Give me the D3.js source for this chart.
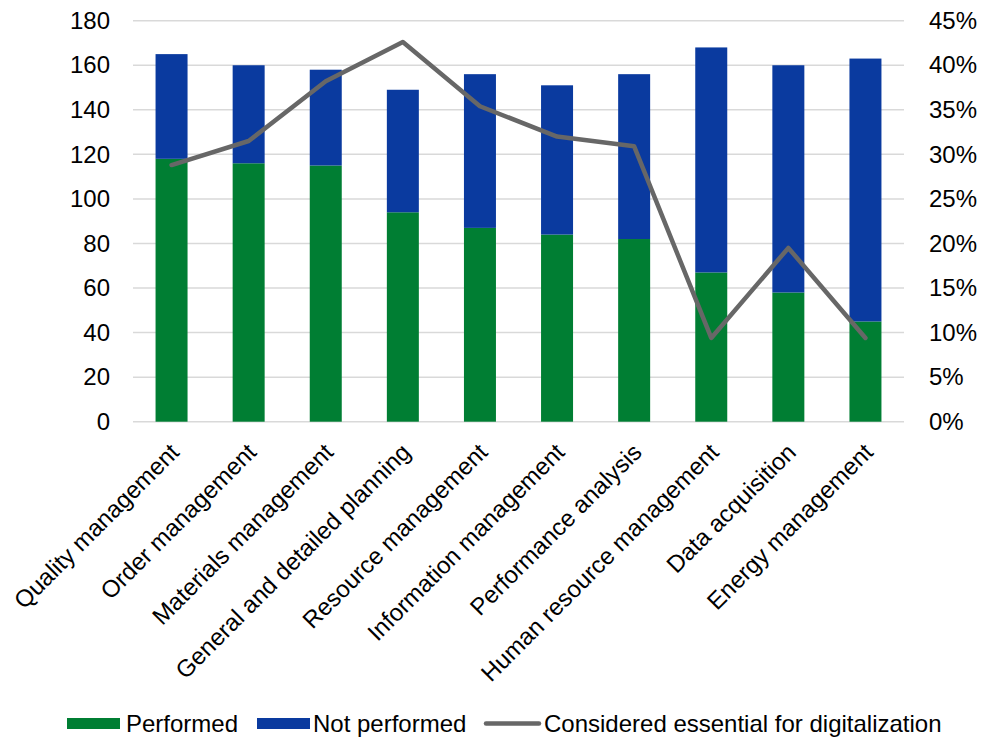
<!DOCTYPE html>
<html>
<head>
<meta charset="utf-8">
<script src="https://cdn.jsdelivr.net/npm/d3@7"></script>
<style>
  html, body { margin: 0; padding: 0; background: #fff; }
  svg { display: block; font-family: "Liberation Sans", Arial, sans-serif; }
</style>
</head>
<body>
<svg id="chart" width="998" height="737"></svg>
<script>
// Functions and how many companies perform them
const categories = [
  "Quality management", "Order management", "Materials management",
  "General and detailed planning", "Resource management", "Information management",
  "Performance analysis", "Human resource management", "Data acquisition", "Energy management"
];
const performed    = [118, 116, 115, 94, 87, 84, 82, 67, 58, 45];
const notPerformed = [47, 44, 43, 55, 69, 67, 74, 101, 102, 118];
// Share considering the function essential for digitalization
const essentialShare = [0.288, 0.315, 0.382, 0.426, 0.354, 0.320, 0.309, 0.094, 0.195, 0.094];

const leftTicks  = [0, 20, 40, 60, 80, 100, 120, 140, 160, 180];
const rightTicks = [0, 0.05, 0.10, 0.15, 0.20, 0.25, 0.30, 0.35, 0.40, 0.45];

const colors = { performed: "#007e33", notPerformed: "#0a3a9f", line: "#676767", grid: "#d9d9d9", text: "#000" };
const fontSize = 24;

const svg = d3.select("#chart");
const plot = { left: 133, right: 904, top: 20.7, bottom: 421.7 };

const x = d3.scaleBand().domain(categories)
  .range([plot.left, plot.right]).paddingInner(0.585).paddingOuter(0.2925);
const y = d3.scaleLinear().domain([0, 180]).range([plot.bottom, plot.top]);
const y2 = d3.scaleLinear().domain([0, 0.45]).range([plot.bottom, plot.top]);

// Gridlines
svg.append("g").selectAll("line").data(leftTicks).join("line")
  .attr("x1", plot.left).attr("x2", plot.right)
  .attr("y1", d => y(d)).attr("y2", d => y(d))
  .attr("stroke", colors.grid).attr("stroke-width", 1.5);

// Left axis
const leftAxis = svg.append("g").attr("transform", `translate(${plot.left},0)`)
  .call(d3.axisLeft(y).tickValues(leftTicks).tickSize(0).tickPadding(23));
leftAxis.select(".domain").remove();
leftAxis.selectAll("text").attr("font-size", fontSize).attr("fill", colors.text)
  .attr("font-family", "Liberation Sans, Arial, sans-serif");

// Right axis
const rightAxis = svg.append("g").attr("transform", `translate(${plot.right},0)`)
  .call(d3.axisRight(y2).tickValues(rightTicks).tickSize(0).tickPadding(25).tickFormat(d3.format(".0%")));
rightAxis.select(".domain").remove();
rightAxis.selectAll("text").attr("font-size", fontSize).attr("fill", colors.text)
  .attr("font-family", "Liberation Sans, Arial, sans-serif");

// Stacked bars
const rows = categories.map((c, i) => ({ cat: c, performed: performed[i], notPerformed: notPerformed[i] }));
const stack = d3.stack().keys(["performed", "notPerformed"])(rows);
svg.append("g").selectAll("g").data(stack).join("g")
  .attr("fill", d => colors[d.key])
  .selectAll("rect").data(d => d).join("rect")
  .attr("x", d => x(d.data.cat))
  .attr("width", x.bandwidth())
  .attr("y", d => y(d[1]))
  .attr("height", d => y(d[0]) - y(d[1]));

// Line series
const line = d3.line()
  .x((d, i) => x(categories[i]) + x.bandwidth() / 2)
  .y(d => y2(d));
svg.append("path").datum(essentialShare)
  .attr("d", line).attr("fill", "none")
  .attr("stroke", colors.line).attr("stroke-width", 4.5)
  .attr("stroke-linejoin", "round").attr("stroke-linecap", "round");

// Category labels, rotated
svg.append("g").selectAll("text").data(categories).join("text")
  .attr("transform", d => `translate(${x(d) + x.bandwidth() / 2 + 9},${plot.bottom + 32}) rotate(-45)`)
  .attr("text-anchor", "end")
  .attr("font-size", fontSize).attr("fill", colors.text)
  .text(d => d);

// Legend
const legend = svg.append("g").attr("transform", "translate(0,723.5)");
const items = [
  { label: "Performed", type: "rect", color: colors.performed, x: 67, tx: 126 },
  { label: "Not performed", type: "rect", color: colors.notPerformed, x: 257, tx: 313 },
  { label: "Considered essential for digitalization", type: "line", color: colors.line, x: 484, tx: 544 }
];
items.forEach(it => {
  if (it.type === "rect") {
    legend.append("rect").attr("x", it.x).attr("y", -5.5).attr("width", 53).attr("height", 11).attr("fill", it.color);
  } else {
    legend.append("line").attr("x1", it.x + 2).attr("x2", it.x + 55).attr("y1", 0).attr("y2", 0)
      .attr("stroke", it.color).attr("stroke-width", 4.5).attr("stroke-linecap", "round");
  }
  legend.append("text").attr("x", it.tx).attr("y", 0).attr("dy", "0.35em")
    .attr("font-size", fontSize).attr("fill", colors.text).text(it.label);
});
</script>
</body>
</html>
